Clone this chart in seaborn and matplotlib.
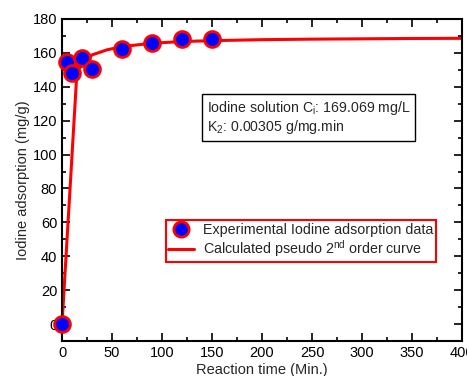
import numpy as np
import matplotlib
matplotlib.use("Agg")
import matplotlib.pyplot as plt
from matplotlib.lines import Line2D
import seaborn as sns

# experimental points
time_exp = [0, 5, 10, 20, 30, 60, 90, 120, 150]
qt_exp = [0, 154.5, 148, 157, 150.5, 162.5, 166, 168, 168]

# calculated pseudo 2nd order curve
time_fit = [0, 15, 30, 45, 60, 90, 120, 150, 200, 250, 300, 350, 400]
qt_fit = [0, 149.5, 158.8, 161.8, 163.7, 165.7, 166.7, 167.2, 167.8, 168.1, 168.3, 168.5, 168.6]

sns.set_style("ticks")
plt.rcParams['font.family'] = ['Liberation Sans', 'DejaVu Sans']
plt.rcParams['mathtext.fontset'] = 'custom'
plt.rcParams['mathtext.rm'] = 'Liberation Sans'
plt.rcParams['mathtext.it'] = 'Liberation Sans'
plt.rcParams['mathtext.default'] = 'rm'

fig = plt.figure(figsize=(4.67, 3.76), dpi=100)
ax = fig.add_axes([0.1328, 0.0931, 0.8565, 0.8564])

sns.lineplot(x=time_fit, y=qt_fit, color='red', lw=2.2, ax=ax, zorder=2)
sns.scatterplot(x=time_exp, y=qt_exp, s=130, color='blue', edgecolor='red',
                linewidth=2, ax=ax, zorder=3, clip_on=False)

ax.set_xlim(0, 400)
ax.set_ylim(-10, 180)
ax.set_xticks(np.arange(0, 401, 50))
ax.set_xticks(np.arange(0, 401, 25), minor=True)
ax.set_yticks(np.arange(0, 181, 20))
ax.set_yticks(np.arange(-10, 181, 10), minor=True)
ax.tick_params(which='both', direction='in', top=True, right=True, width=1.2,
               labelsize=10.5, colors='black')
ax.tick_params(which='major', length=6)
ax.tick_params(which='minor', length=3)
for sp in ax.spines.values():
    sp.set_linewidth(1.5)
    sp.set_color('black')

ax.set_xlabel("Reaction time (Min.)", fontsize=10.5, labelpad=2)
ax.set_ylabel("Iodine adsorption (mg/g)", fontsize=10.5, labelpad=1.5)

ax.text(0.362, 0.752, "Iodine solution C$_i$: 169.069 mg/L\nK$_2$: 0.00305 g/mg.min",
        transform=ax.transAxes, fontsize=10.2, va='top', ha='left', linespacing=1.1,
        bbox=dict(boxstyle='square,pad=0.35', fc='white', ec='black', lw=1))

handles = [
    Line2D([], [], ls='none', marker='o', markersize=11, markerfacecolor='blue',
           markeredgecolor='red', markeredgewidth=2),
    Line2D([], [], color='red', lw=2.2),
]
labels = ["Experimental Iodine adsorption data",
          "Calculated pseudo 2$^{nd}$ order curve"]
leg = ax.legend(handles, labels, loc='lower left', bbox_to_anchor=(0.259, 0.246),
                borderaxespad=0, fontsize=10.3, fancybox=False, framealpha=1,
                handlelength=1.8, handletextpad=0.6, borderpad=0.2, labelspacing=0.1)
leg.get_frame().set_edgecolor('red')
leg.get_frame().set_linewidth(1.5)

fig.savefig("out.png", dpi=100)
